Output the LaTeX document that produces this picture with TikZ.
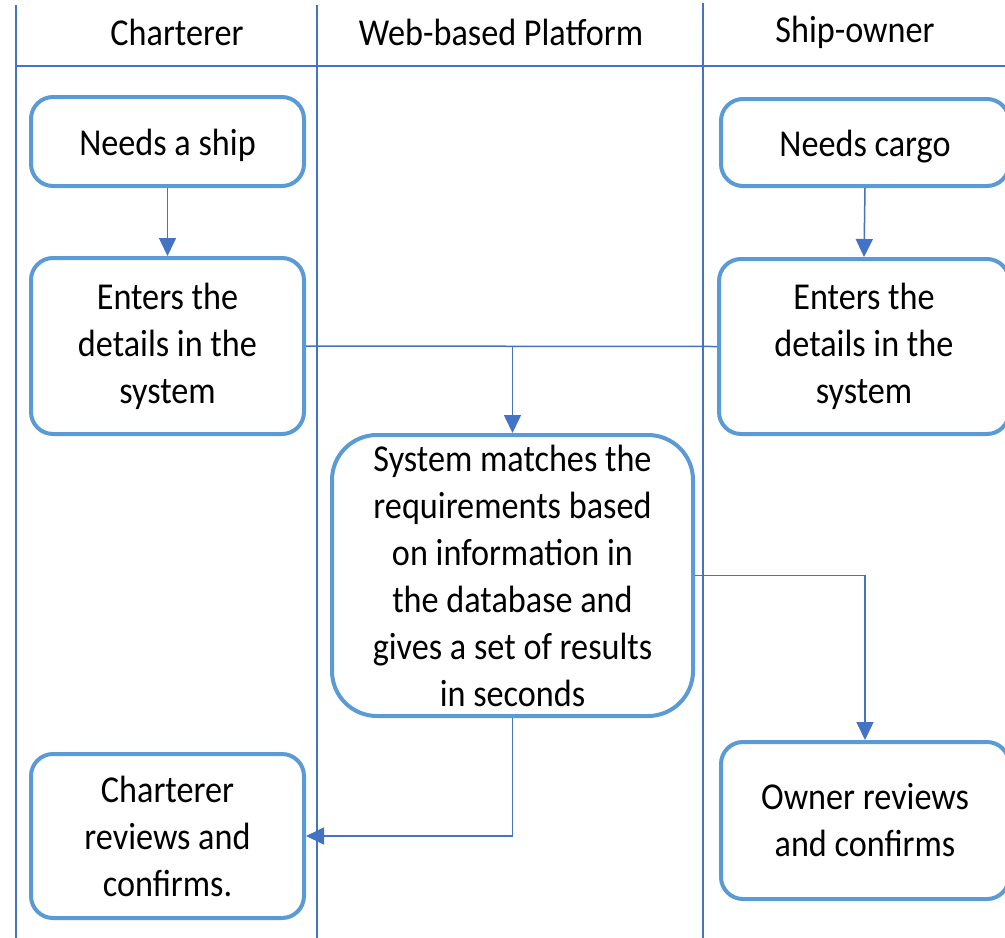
\documentclass[tikz,border=0pt]{standalone}
\usepackage{fontspec}
\setmainfont{Carlito}[FakeStretch=0.9]
\usetikzlibrary{arrows.meta,positioning}
\definecolor{boxblue}{HTML}{5B9BD5}
\definecolor{lineblue}{HTML}{4472C4}
\tikzset{
  stepbox/.style={draw=boxblue, line width=4pt, fill=white, rounded corners=22pt,
    align=center, inner sep=0pt, font=\fontsize{38}{47}\selectfont,
    execute at begin node={\rule{0pt}{34pt}}},
  lane/.style={draw=lineblue, line width=1.2pt},
  arr/.style={draw=lineblue, line width=1.5pt, -{Triangle[length=18pt,width=17pt]}},
  link/.style={draw=lineblue, line width=1.5pt},
  head/.style={font=\fontsize{38}{47}\selectfont, inner sep=0pt}
}
\begin{document}
\begin{tikzpicture}[x=1pt,y=-1pt]
\clip (0,0) rectangle (1005,938);
\fill[white] (0,0) rectangle (1005,938);
% lanes
\draw[lane] (16,5) -- (16,938);
\draw[lane] (317,5) -- (317,938);
\draw[lane] (703,3) -- (703,938);
\draw[lane] (16,66) -- (1005,66);
\node[head] (h1) at (177,32) {Charterer};
\node[head] (h2) at (501,32) {Web-based Platform};
\node[head] (h3) at (855,32) {Ship-owner};
% boxes
\node[stepbox, minimum width=273pt, minimum height=89pt] (ship) at (167.5,141.5) {Needs a ship};
\node[stepbox, minimum width=288pt, minimum height=87pt] (cargo) at (865,142.5) {Needs cargo};
\node[stepbox, minimum width=273pt, minimum height=176pt] (enterL) at (167.5,346) {Enters the\\details in the\\system};
\node[stepbox, minimum width=290pt, minimum height=175pt] (enterR) at (864,346.5) {Enters the\\details in the\\system};
\node[stepbox, rounded corners=45pt, minimum width=361pt, minimum height=281pt] (sys) at (512.5,575.5) {System matches the\\requirements based\\on information in\\the database and\\gives a set of results\\in seconds};
\node[stepbox, minimum width=273pt, minimum height=164pt] (chart) at (167.5,836) {Charterer\\reviews and\\confirms.};
\node[stepbox, minimum width=288pt, minimum height=157pt] (owner) at (865,820.5) {Owner reviews\\and confirms};
% connectors
\draw[arr] (ship.south) -- (enterL.north);
\draw[arr] (cargo.south) -- (enterR.north);
\draw[link] (enterL.east) -- (enterR.west);
\coordinate (join) at (enterL.east -| sys.north);
\draw[arr] (join) -- (sys.north);
\draw[arr] (sys.east) -| (owner.north);
\draw[arr] (sys.south) |- (chart.east);
\end{tikzpicture}
\end{document}
